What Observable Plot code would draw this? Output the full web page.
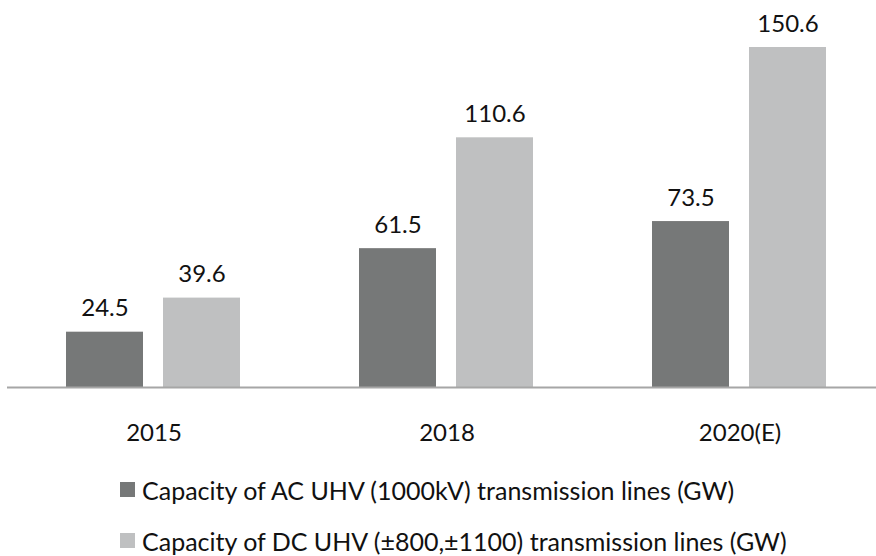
<!DOCTYPE html>
<html>
<head>
<meta charset="utf-8">
<script src="https://cdn.jsdelivr.net/npm/d3@7"></script>
<script src="https://cdn.jsdelivr.net/npm/@observablehq/plot@0.6"></script>
<style>
  html, body { margin: 0; padding: 0; background: #fff; overflow: hidden; }
  #wrap { width: 876px; height: 556px; position: relative; font-family: Lato, "Open Sans", sans-serif; }
  #legend { position: absolute; left: 120px; top: 464px; font-size: 25px; color: #111; }
  .row { height: 51px; display: flex; align-items: center; white-space: nowrap; }
  .sw { width: 15px; height: 15px; margin-right: 7px; display: inline-block; }
</style>
</head>
<body>
<div id="wrap"><div id="chart"></div><div id="legend"></div></div>
<script>
const years = ["2015", "2018", "2020(E)"];
const acValues = [24.5, 61.5, 73.5];
const dcValues = [39.6, 110.6, 150.6];
const seriesNames = [
  "Capacity of AC UHV (1000kV) transmission lines (GW)",
  "Capacity of DC UHV (±800,±1100) transmission lines (GW)"
];
const seriesColors = ["#767878", "#bfc0c1"];

const data = [];
years.forEach((y, i) => {
  data.push({year: y, series: seriesNames[0], value: acValues[i]});
  data.push({year: y, series: seriesNames[1], value: dcValues[i]});
});

const chart = Plot.plot({
  width: 876,
  height: 450,
  marginTop: 47,
  marginBottom: 63,
  marginLeft: 6,
  marginRight: 0,
  style: {fontFamily: "Lato, 'Open Sans', sans-serif", fontSize: "24px", color: "#111", background: "#fff"},
  fx: {domain: years, range: [6.5, 885.5], padding: 0, label: null, axis: null},
  x: {domain: seriesNames, paddingInner: 0.204, paddingOuter: 0.597, axis: null},
  y: {domain: [0, 150.6], axis: null},
  color: {domain: seriesNames, range: seriesColors},
  marks: [
    Plot.barY(data, {fx: "year", x: "series", y: "value", fill: "series"}),
    Plot.ruleY([0], {stroke: "#a6a6a6", strokeWidth: 2}),
    Plot.text(data, {fx: "year", x: "series", y: "value", text: d => d.value.toFixed(1), dy: -16, lineAnchor: "bottom", fill: "#111", fontSize: 24}),
    Plot.axisFx({anchor: "bottom", tickSize: 0, tickPadding: 36, label: null, fontSize: 24, fill: "#111"})
  ]
});
document.getElementById("chart").appendChild(chart);

const legend = document.getElementById("legend");
seriesNames.forEach((name, i) => {
  const row = document.createElement("div");
  row.className = "row";
  const sw = document.createElement("span");
  sw.className = "sw";
  sw.style.background = seriesColors[i];
  const t = document.createElement("span");
  t.textContent = name;
  row.appendChild(sw);
  row.appendChild(t);
  legend.appendChild(row);
});
</script>
</body>
</html>
